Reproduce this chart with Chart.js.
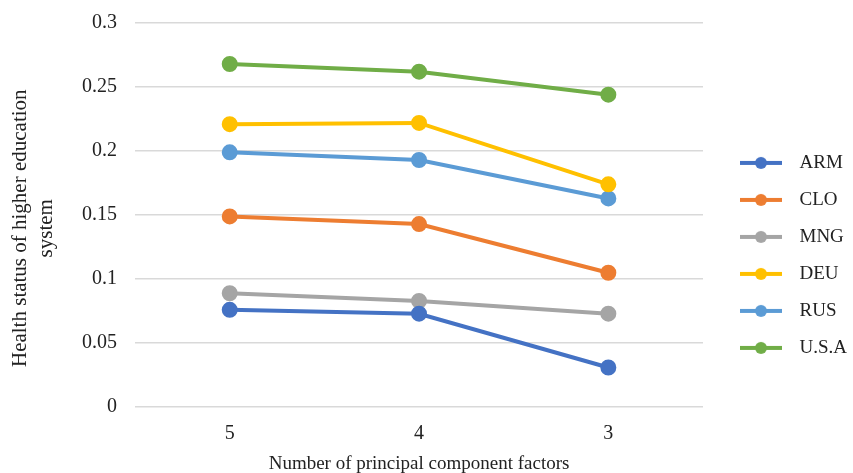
<!DOCTYPE html>
<html>
<head>
<meta charset="utf-8">
<script src="https://cdn.jsdelivr.net/npm/chart.js@4"></script>
<style>
  body { margin: 0; background: #fff; }
</style>
</head>
<body>
<canvas id="healthChart" width="853" height="473"></canvas>
<script>
const factors = ['5', '4', '3'];
const countries = ['ARM', 'CLO', 'MNG', 'DEU', 'RUS', 'U.S.A'];
const colors = ['#4472C4', '#ED7D31', '#A5A5A5', '#FFC000', '#5B9BD5', '#70AD47'];
const yTicks = ['0', '0.05', '0.1', '0.15', '0.2', '0.25', '0.3'];

const arm = [0.076, 0.073, 0.031];
const clo = [0.149, 0.143, 0.105];
const mng = [0.089, 0.083, 0.073];
const deu = [0.221, 0.222, 0.174];
const rus = [0.199, 0.193, 0.163];
const usa = [0.268, 0.262, 0.244];

const series = [arm, clo, mng, deu, rus, usa];

// line-with-dot icon for the legend (blank strip on the left pushes it off the plot)
function legendIcon(color) {
    const c = document.createElement('canvas');
    c.width = 69;
    c.height = 14;
    const g = c.getContext('2d');
    g.strokeStyle = color;
    g.lineWidth = 4;
    g.beginPath();
    g.moveTo(19, 7);
    g.lineTo(61, 7);
    g.stroke();
    g.fillStyle = color;
    g.beginPath();
    g.arc(40, 7, 6, 0, Math.PI * 2);
    g.fill();
    return c;
}

const serif = "'Liberation Serif', 'Times New Roman', serif";

const ctx = document.getElementById('healthChart').getContext('2d');
const chart = new Chart(ctx, {
    type: 'line',
    data: {
        labels: factors,
        datasets: series.map((vals, i) => ({
            label: countries[i],
            data: vals,
            borderColor: colors[i],
            backgroundColor: colors[i],
            borderWidth: 4,
            pointRadius: 6,
            pointHoverRadius: 6,
            pointStyle: 'circle',
            tension: 0
        }))
    },
    options: {
        responsive: false,
        animation: false,
        layout: {
            padding: { top: 1, right: -4, left: 4, bottom: -2 }
        },
        plugins: {
            legend: {
                position: 'right',
                title: {
                    display: true,
                    text: ' ',
                    font: { family: serif, size: 19 },
                    padding: { top: 6, bottom: 6 }
                },
                labels: {
                    usePointStyle: true,
                    pointStyleWidth: 69,
                    padding: 18,
                    color: '#222',
                    font: { family: serif, size: 19 },
                    generateLabels: function(chart) {
                        return chart.data.datasets.map((ds, i) => ({
                            text: ds.label,
                            pointStyle: legendIcon(colors[i]),
                            fillStyle: colors[i],
                            strokeStyle: colors[i],
                            lineWidth: 0,
                            fontColor: '#222',
                            datasetIndex: i
                        }));
                    }
                }
            },
            tooltip: { enabled: false }
        },
        scales: {
            x: {
                offset: true,
                grid: { display: false, drawTicks: false },
                border: { display: false },
                ticks: {
                    color: '#222',
                    font: { family: serif, size: 20 },
                    padding: 15
                },
                title: {
                    display: true,
                    text: 'Number of principal component factors',
                    color: '#222',
                    font: { family: serif, size: 19 },
                    padding: { top: -9, bottom: 0 }
                }
            },
            y: {
                min: 0,
                max: 0.3,
                afterFit: function(axis) {
                    axis.paddingTop = 23;
                },
                ticks: {
                    stepSize: 0.05,
                    color: '#222',
                    font: { family: serif, size: 20 },
                    padding: 18,
                    callback: (v, i) => yTicks[i]
                },
                grid: {
                    color: '#d9d9d9',
                    lineWidth: 1.5,
                    drawTicks: false
                },
                border: { display: false },
                title: {
                    display: true,
                    // trailing spaces nudge the rotated title a little lower, as in the original
                    text: ['Health status of higher education     ', 'system     '],
                    color: '#222',
                    font: { family: serif, size: 21, lineHeight: 1.24 },
                    padding: { top: 3, bottom: 5 }
                }
            }
        }
    }
});
</script>
</body>
</html>
